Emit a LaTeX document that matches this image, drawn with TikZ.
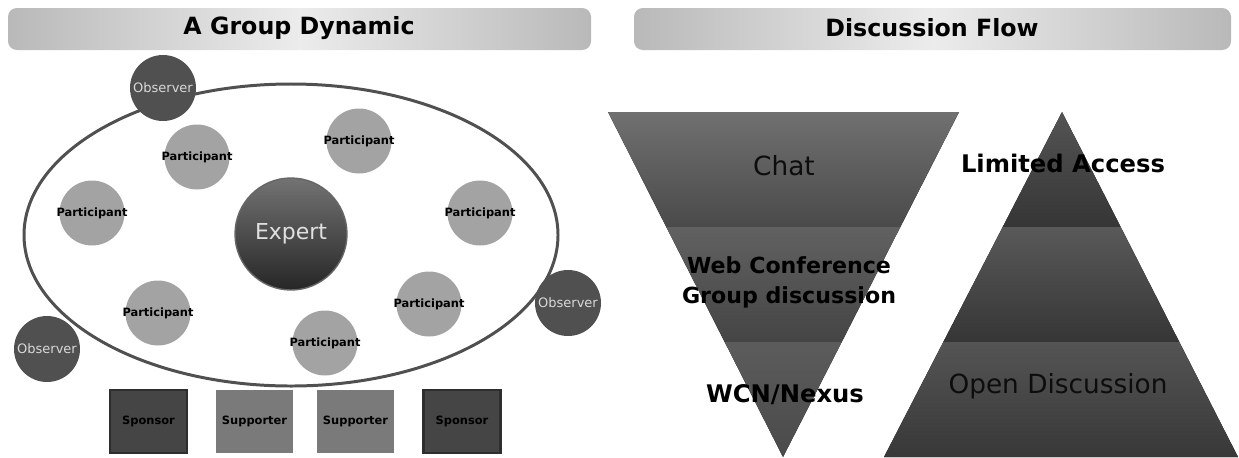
\documentclass[tikz,border=0pt]{standalone}
\usepackage{fontspec}
\setmainfont{DejaVu Sans}
\definecolor{obsgray}{HTML}{505050}
\definecolor{partgray}{HTML}{A3A3A3}
\definecolor{spongray}{HTML}{454545}
\definecolor{suppgray}{HTML}{7A7A7A}
\begin{document}
\begin{tikzpicture}[x=0.02cm,y=-0.02cm,
  titlebar/.style={rounded corners=5pt,left color=gray!55,right color=gray!55,middle color=gray!15},
  titletext/.style={font=\fontsize{13.5}{16}\bfseries},
  obscirc/.style={circle,fill=obsgray,inner sep=0pt,minimum size=1.32cm},
  obstext/.style={text=white!85!black,font=\fontsize{7.4}{9}\selectfont},
  pcirc/.style={circle,fill=partgray,inner sep=0pt,minimum size=1.3cm},
  ptext/.style={font=\fontsize{6.5}{8}\selectfont\bfseries},
  sbox/.style={rectangle,inner sep=0pt,minimum width=1.54cm,minimum height=1.26cm,
    font=\fontsize{6.5}{8}\selectfont\bfseries},
  sponsor/.style={sbox,fill=spongray,draw=black!82,line width=1.4pt},
  supporter/.style={sbox,fill=suppgray},
  bigbold/.style={font=\fontsize{13.8}{17}\selectfont\bfseries},
  bigreg/.style={text=black!95,font=\fontsize{15}{18}\selectfont}]
\useasboundingbox (0,0) rectangle (1239,457);
\path[titlebar] (8,8) rectangle (591,50);
\node[titletext] (gdtitle) at (299,28) {A Group Dynamic};
\path[titlebar] (634,8) rectangle (1231,50);
\node[titletext] (dftitle) at (932,28) {Discussion Flow};
\draw[obsgray,line width=1.7pt] (291,235) ellipse [x radius=267,y radius=151];
\node[circle,inner sep=0pt,minimum size=2.24cm,top color=black!55,bottom color=black!85,
  draw=black!60,line width=0.8pt,text=white!88!black,font=\fontsize{12.5}{15}\selectfont]
  (expert) at (291,234) {Expert};
\node[pcirc] (p1) at (197,157) {};
\node[ptext] at (p1) {Participant};
\node[pcirc] (p2) at (92,213) {};
\node[ptext] at (p2) {Participant};
\node[pcirc] (p3) at (359,141) {};
\node[ptext] at (p3) {Participant};
\node[pcirc] (p4) at (480,213) {};
\node[ptext] at (p4) {Participant};
\node[pcirc] (p5) at (429,304) {};
\node[ptext] at (p5) {Participant};
\node[pcirc] (p6) at (158,313) {};
\node[ptext] at (p6) {Participant};
\node[pcirc] (p7) at (325,343) {};
\node[ptext] at (p7) {Participant};
\node[obscirc] (o1) at (163,88) {};
\node[obstext] at (o1) {Observer};
\node[obscirc] (o2) at (568,303) {};
\node[obstext] at (o2) {Observer};
\node[obscirc] (o3) at (47,349) {};
\node[obstext] at (o3) {Observer};
\node[sponsor] (s1) at (148.5,421.5) {Sponsor};
\node[supporter] (s2) at (254.5,421.5) {Supporter};
\node[supporter] (s3) at (355.5,421.5) {Supporter};
\node[sponsor] (s4) at (462,421.5) {Sponsor};
\fill[top color=black!56,bottom color=black!71] (608,112) -- (959,112) -- (900.3,227) -- (666.3,227) -- cycle;
\fill[top color=black!62,bottom color=black!73] (666.3,227) -- (900.3,227) -- (841.7,342) -- (724.7,342) -- cycle;
\fill[top color=black!64,bottom color=black!71] (724.7,342) -- (841.7,342) -- (783,457) -- cycle;
\fill[top color=black!67,bottom color=black!79] (1062,112) -- (1120.7,227) -- (1002.7,227) -- cycle;
\fill[top color=black!65,bottom color=black!79] (1002.7,227) -- (1120.7,227) -- (1179.3,342) -- (943.3,342) -- cycle;
\fill[top color=black!67,bottom color=black!78] (943.3,342) -- (1179.3,342) -- (1238,457) -- (884,457) -- cycle;
\node[bigreg] (chat) at (784,166) {Chat};
\node[font=\fontsize{12.6}{17}\selectfont\bfseries,align=center,inner sep=0pt]
  (webconf) at (789,282) {Web Conference\\Group discussion};
\node[bigbold] (wcn) at (785,395) {WCN/Nexus};
\node[bigbold] (limited) at (1063,163) {Limited Access};
\node[bigreg] (opendisc) at (1058,386) {Open Discussion};
\end{tikzpicture}
\end{document}
